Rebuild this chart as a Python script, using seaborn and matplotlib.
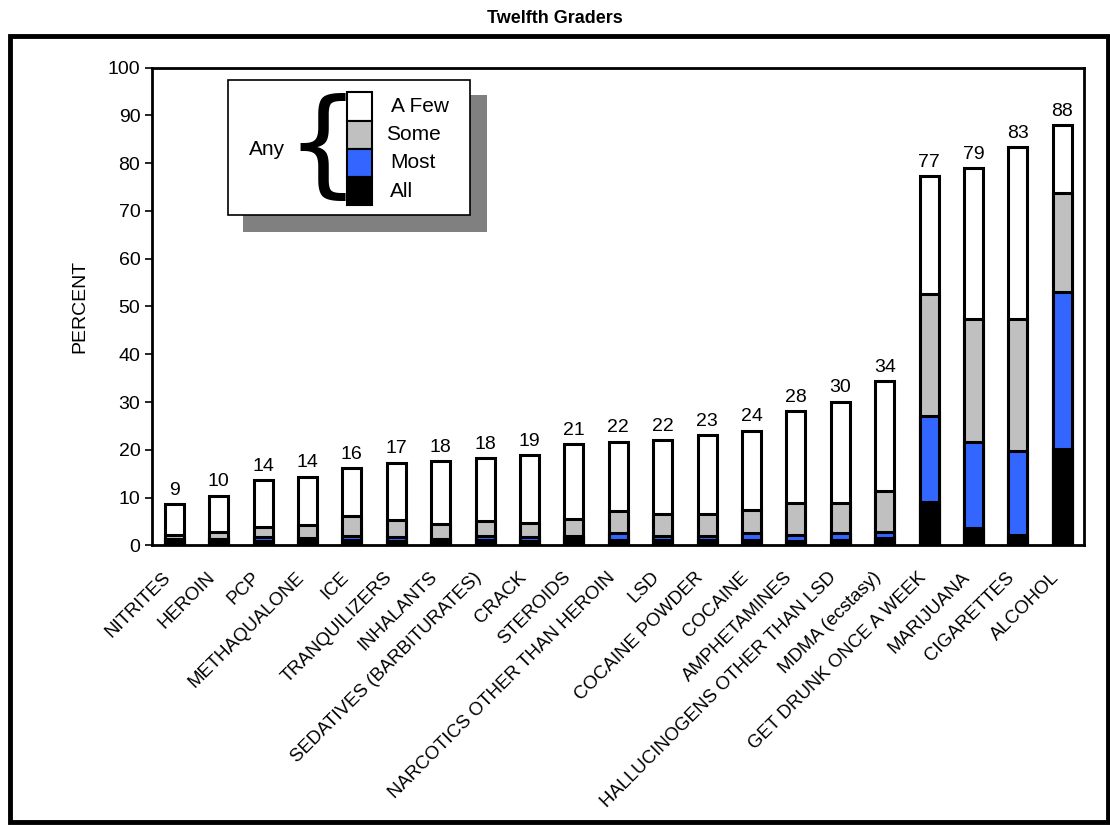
import numpy as np
import pandas as pd
import matplotlib
matplotlib.use("Agg")
import matplotlib.pyplot as plt
import matplotlib.transforms as mtransforms
import seaborn as sns
from matplotlib.patches import Rectangle

# Twelfth graders: proportion of friends who use each drug
drugs = ["NITRITES", "HEROIN", "PCP", "METHAQUALONE", "ICE", "TRANQUILIZERS",
         "INHALANTS", "SEDATIVES (BARBITURATES)", "CRACK", "STEROIDS",
         "NARCOTICS OTHER THAN HEROIN", "LSD", "COCAINE POWDER", "COCAINE",
         "AMPHETAMINES", "HALLUCINOGENS OTHER THAN LSD", "MDMA (ecstasy)",
         "GET DRUNK ONCE A WEEK", "MARIJUANA", "CIGARETTES", "ALCOHOL"]
all_ = [1.0, 1.2, 0.9, 0.9, 1.2, 1.0, 0.8, 1.2, 1.0, 1.7, 1.1, 1.1, 1.2, 1.2,
        1.0, 1.2, 1.6, 9.0, 3.6, 2.1, 20.1]
most = [0.3, 0.1, 0.8, 0.6, 0.8, 0.8, 0.6, 0.8, 0.7, 0.3, 1.5, 0.9, 0.8, 1.3,
        1.2, 1.4, 1.2, 18.0, 18.0, 17.6, 33.0]
some = [0.8, 1.5, 2.2, 2.8, 4.2, 3.4, 3.1, 3.1, 3.0, 3.5, 4.6, 4.5, 4.5, 4.8,
        6.6, 6.2, 8.5, 25.6, 25.7, 27.6, 20.6]
a_few = [6.6, 7.6, 9.8, 10.1, 10.0, 12.1, 13.1, 13.1, 14.2, 15.7, 14.5, 15.5,
         16.6, 16.7, 19.3, 21.3, 23.0, 24.7, 31.6, 36.0, 14.3]

df = pd.DataFrame({"drug": drugs, "all": all_, "most": most,
                   "some": some, "few": a_few})
df["c_most"] = df["all"] + df["most"]
df["c_some"] = df["c_most"] + df["some"]
df["total"] = df["c_some"] + df["few"]

plt.rcParams["font.family"] = ["Liberation Sans", "DejaVu Sans"]

fig = plt.figure(figsize=(11.1, 8.25), dpi=100)
ax = fig.add_axes([0.137, 0.339, 0.840, 0.579])

layers = [("total", "white"), ("c_some", "#C0C0C0"),
          ("c_most", "#3366FF"), ("all", "black")]
for col, color in layers:
    sns.barplot(data=df, x="drug", y=col, color=color, width=0.43,
                edgecolor="black", linewidth=2.2, saturation=1, ax=ax)

for i, t in enumerate(df["total"]):
    ax.text(i, t + 1.1, f"{t:.0f}", ha="center", va="bottom", fontsize=14)

ax.set_xlim(-0.5, len(drugs) - 0.5)
ax.set_ylim(0, 100)
ax.set_yticks(range(0, 101, 10))
ax.tick_params(axis="y", labelsize=14, length=5, width=1.2, direction="out")
ax.tick_params(axis="x", length=0, pad=6)
ax.set_xticks(range(len(drugs)))
ax.set_xticklabels(drugs, rotation=45, ha="right", rotation_mode="anchor",
                   fontsize=13.4)
shift = mtransforms.ScaledTranslation(-0.12, -0.15, fig.dpi_scale_trans)
for lbl in ax.get_xticklabels():
    lbl.set_transform(lbl.get_transform() + shift)
ax.set_xlabel("")
ax.set_ylabel("PERCENT", fontsize=14, labelpad=14)
for s in ax.spines.values():
    s.set_linewidth(2)

# legend box with drop shadow
ax.add_patch(Rectangle((1.55, 65.6), 5.5, 28.7, facecolor="#808080",
                       edgecolor="none", zorder=5, clip_on=False))
ax.add_patch(Rectangle((1.2, 69.2), 5.46, 28.3, facecolor="white",
                       edgecolor="black", linewidth=1.2, zorder=6, clip_on=False))
sw_x = 3.9
sw_w = 0.55
sw_h = 5.9
sw_colors = ["white", "#C0C0C0", "#3366FF", "black"]
sw_labels = ["A Few", "Some", "Most", "All"]
lab_dx = [0.98, 0.88, 0.96, 0.96]
for k, (c, lab) in enumerate(zip(sw_colors, sw_labels)):
    y0 = 94.8 - (k + 1) * sw_h
    ax.add_patch(Rectangle((sw_x, y0), sw_w, sw_h, facecolor=c,
                           edgecolor="black", linewidth=1.5, zorder=7))
    ax.text(sw_x + lab_dx[k], y0 + sw_h / 2, lab, fontsize=15, va="center",
            ha="left", zorder=8)
ax.text(2.08, 82.8, "Any", fontsize=15, va="center", ha="center", zorder=8)
ax.text(3.34, 82.6, "{", fontsize=84, va="center", ha="center", zorder=8,
        family="DejaVu Sans")

fig.text(0.5, 0.978, "Twelfth Graders", ha="center", va="center",
         fontsize=13, fontweight="bold")
fig.patches.append(Rectangle((0.009, 0.004), 0.989, 0.952,
                             transform=fig.transFigure, fill=False,
                             edgecolor="black", linewidth=3.5))

fig.savefig("out.png", dpi=100)
